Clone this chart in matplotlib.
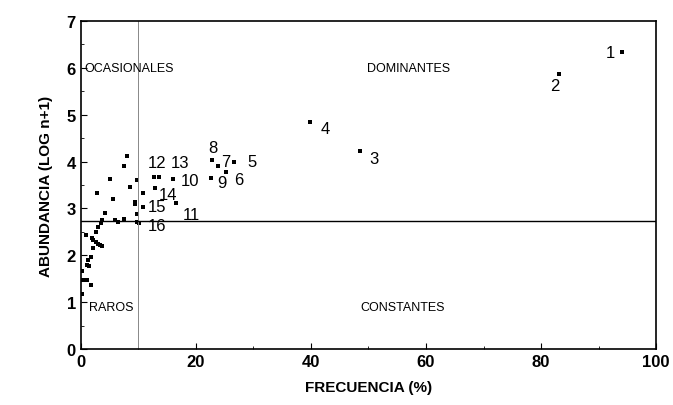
import matplotlib
matplotlib.use("Agg")
import matplotlib.pyplot as plt

plt.rcParams['font.family'] = ['Liberation Sans', 'DejaVu Sans']

# frecuencia (%) y abundancia (log n+1) de cada especie
frecuencia = [94.1, 83.1, 39.9, 48.6, 22.8, 23.9, 26.6, 25.3, 22.7,
              12.7, 13.6, 16.1, 12.9, 10.9, 16.6, 10.9, 9.5, 9.5, 9.8, 9.8,
              10.2, 9.7, 8.6, 8.0, 7.5, 5.1, 5.6, 2.75, 5.9, 6.5, 7.5, 4.2,
              3.7, 3.5, 3.0, 2.7, 0.9, 1.9, 2.2, 2.6, 3.0, 3.3, 3.7, 2.2,
              1.7, 1.3, 1.0, 1.5, 0.2, 0.4, 1.1, 1.8, 0.2]
abundancia = [6.34, 5.86, 4.84, 4.23, 4.03, 3.90, 4.00, 3.77, 3.64,
              3.66, 3.66, 3.62, 3.44, 3.33, 3.11, 3.04, 3.14, 3.10, 3.61, 2.89,
              2.69, 2.71, 3.45, 4.12, 3.90, 3.62, 3.19, 3.33, 2.75, 2.71, 2.78, 2.91,
              2.76, 2.69, 2.61, 2.50, 2.43, 2.36, 2.32, 2.29, 2.25, 2.22, 2.20, 2.15,
              1.97, 1.90, 1.80, 1.76, 1.66, 1.48, 1.47, 1.37, 1.18]

# numeros de especie y donde va cada etiqueta
etiquetas = ['1', '2', '3', '4', '5', '6', '7', '8', '9', '10',
             '11', '12', '13', '14', '15', '16']
etiqueta_x = [92.0, 82.4, 51.0, 42.5, 29.8, 27.4, 25.2, 23.0, 24.6, 19.0,
              19.3, 13.2, 17.3, 15.2, 13.2, 13.3]
etiqueta_y = [6.32, 5.62, 4.07, 4.70, 4.00, 3.62, 4.00, 4.30, 3.55, 3.60,
              2.86, 3.98, 3.98, 3.30, 3.04, 2.64]

limite_frec = 10
limite_abund = 2.73

fig = plt.figure(figsize=(6.73, 4.06), dpi=100)
ax = fig.add_axes([0.120, 0.138, 0.855, 0.808])

ax.scatter(frecuencia, abundancia, s=7, marker='s', color='black', linewidths=0)
ax.axvline(limite_frec, color='#888888', lw=0.7)
ax.axhline(limite_abund, color='black', lw=1.0)

for t, x, y in zip(etiquetas, etiqueta_x, etiqueta_y):
    ax.text(x, y, t, fontsize=12, ha='center', va='center')

ax.text(0.6, 6.0, 'OCASIONALES', fontsize=9, va='center')
ax.text(57, 6.0, 'DOMINANTES', fontsize=9, va='center', ha='center')
ax.text(1.5, 0.9, 'RAROS', fontsize=9, va='center')
ax.text(56, 0.9, 'CONSTANTES', fontsize=9, va='center', ha='center')

ax.set_xlim(0, 100)
ax.set_ylim(0, 7)
ax.set_xticks(range(0, 101, 20))
ax.set_xticks(range(0, 101, 10), minor=True)
ax.set_yticks(range(0, 8))
ax.set_yticks([i / 2 for i in range(15)], minor=True)
ax.tick_params(direction='in', length=4, labelsize=12)
ax.tick_params(which='minor', direction='in', length=2)
for lab in ax.get_xticklabels() + ax.get_yticklabels():
    lab.set_fontweight('bold')
for s in ax.spines.values():
    s.set_linewidth(1.2)

ax.set_xlabel('FRECUENCIA (%)', fontsize=11, fontweight='bold', labelpad=8)
ax.set_ylabel('ABUNDANCIA (LOG n+1)', fontsize=11, fontweight='bold', labelpad=10)

fig.savefig('out.png', dpi=100)
